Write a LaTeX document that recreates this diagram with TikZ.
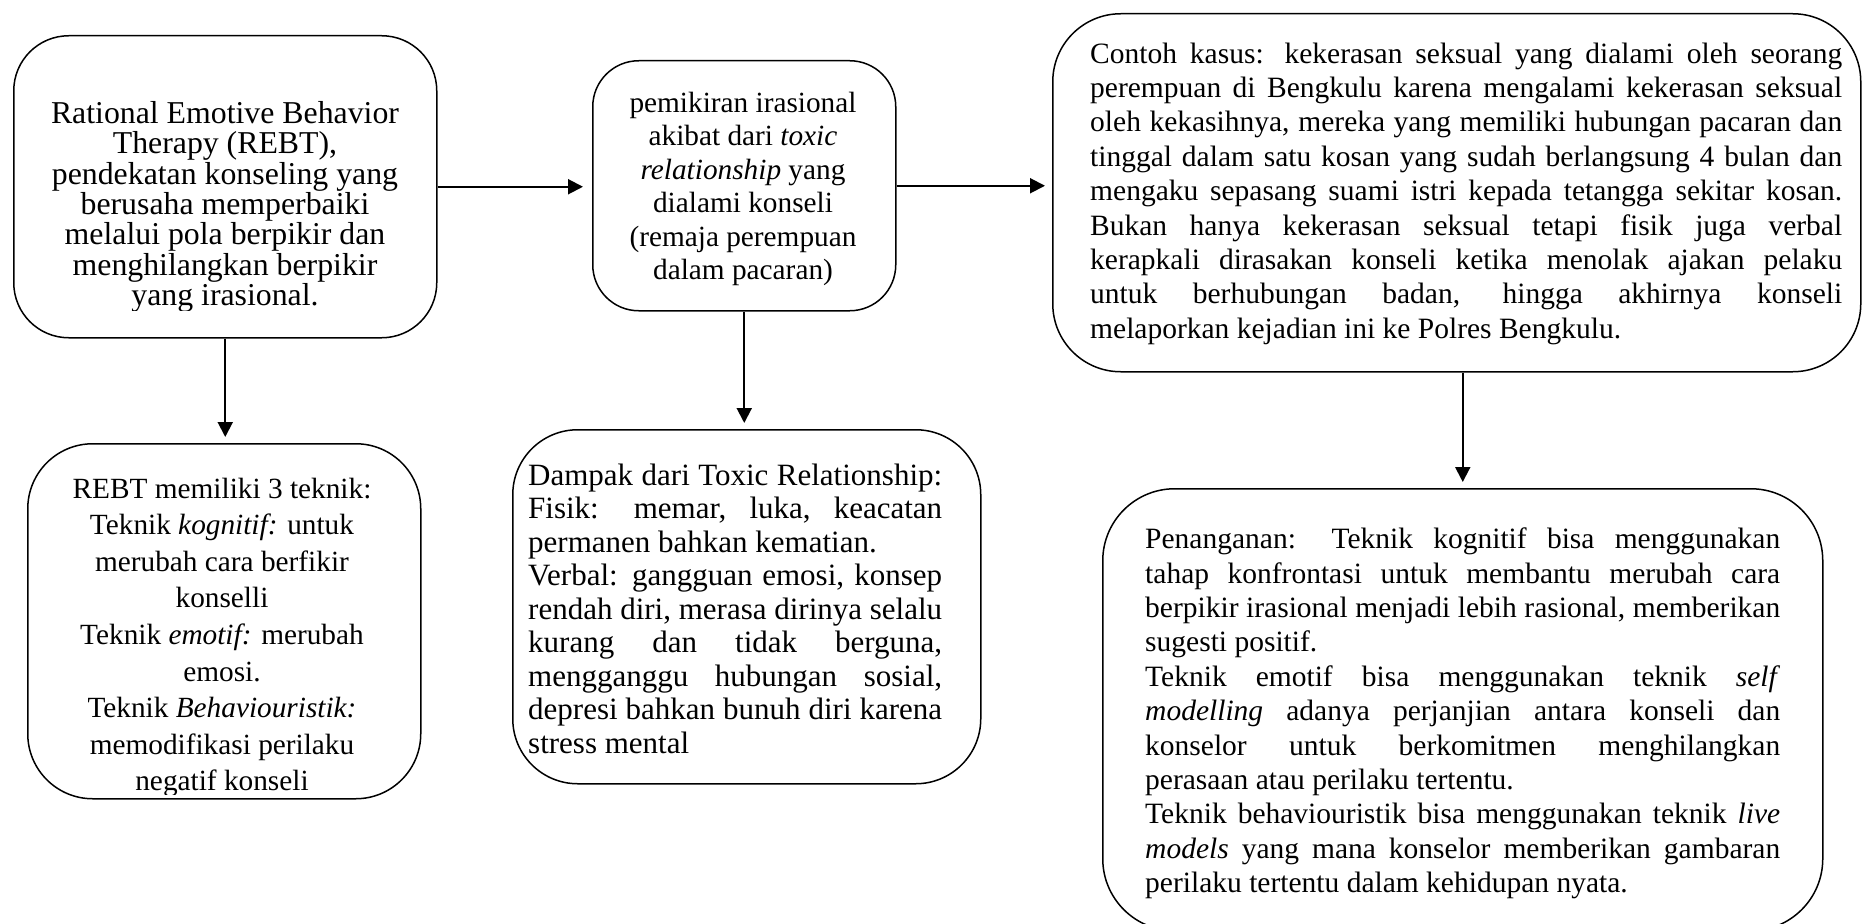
\documentclass[tikz,border=0pt]{standalone}
\usepackage{fontspec}
\setmainfont{Liberation Serif}
\usetikzlibrary{arrows.meta}
\newcommand\mystrut{\rule{0pt}{0.9em}}
\newcommand\jl[2]{\makebox[#1pt][s]{#2}}
\tikzset{
  rbox/.style={draw, line width=1.5pt, rounded corners=#1, anchor=north west, inner sep=0pt},
  arr/.style={line width=2pt, -{Triangle[length=15pt,width=15pt]}},
  tbig/.style={font=\fontsize{31.8}{30.4}\selectfont, align=center, inner sep=0pt, anchor=north},
  tmid/.style={font=\fontsize{29.3}{33.5}\selectfont, align=center, inner sep=0pt, anchor=north},
  tfour/.style={font=\fontsize{29.3}{36.6}\selectfont, align=center, inner sep=0pt, anchor=north},
  tdam/.style={font=\fontsize{31}{33.5}\selectfont, align=left, inner sep=0pt, anchor=north west},
  tjus/.style={font=\fontsize{29.5}{34.4}\selectfont, align=left, inner sep=0pt, anchor=north west}
}
\begin{document}
\begin{tikzpicture}[x=1pt,y=-1pt]
\clip (0,0) rectangle (1870,923);
% boxes
\node[rbox=55pt, minimum width=423pt, minimum height=302pt] (b1) at (13,35) {};
\node[rbox=46pt, minimum width=303pt, minimum height=250pt] (b2) at (592,60) {};
\node[rbox=68pt, minimum width=808pt, minimum height=358pt] (b3) at (1052,13) {};
\node[rbox=65pt, minimum width=393pt, minimum height=355pt] (b4) at (27,443) {};
\node[rbox=65pt, minimum width=468pt, minimum height=354pt] (b5) at (512,429) {};
\node[rbox=72pt, minimum width=720pt, minimum height=442pt] (b6) at (1102,488) {};
% texts
\begin{scope}
\clip (0,0) rectangle (1870,310);
\node[tbig] (x1) at (225,94.4) {\mystrut Rational Emotive Behavior\\Therapy (REBT),\\pendekatan konseling yang\\berusaha memperbaiki\\melalui pola berpikir dan\\menghilangkan berpikir\\yang irasional.};
\end{scope}
\node[tmid] (x2) at (743,85.6) {\mystrut pemikiran irasional\\akibat dari \textit{toxic}\\\textit{relationship} yang\\dialami konseli\\(remaja perempuan\\dalam pacaran)};
\node[tjus] (x3) at (1090,36.4) {\mystrut\jl{752}{Contoh kasus: kekerasan seksual yang dialami oleh seorang}\\
\jl{752}{perempuan di Bengkulu karena mengalami kekerasan seksual}\\
\jl{752}{oleh kekasihnya, mereka yang memiliki hubungan pacaran dan}\\
\jl{752}{tinggal dalam satu kosan yang sudah berlangsung 4 bulan dan}\\
\jl{752}{mengaku sepasang suami istri kepada tetangga sekitar kosan.}\\
\jl{752}{Bukan hanya kekerasan seksual tetapi fisik juga verbal}\\
\jl{752}{kerapkali dirasakan konseli ketika menolak ajakan pelaku}\\
\jl{752}{untuk berhubungan badan, hingga akhirnya konseli}\\
melaporkan kejadian ini ke Polres Bengkulu.};
\begin{scope}
\clip (0,0) rectangle (1870,794);
\node[tfour] (x4) at (222,471.6) {\mystrut REBT memiliki 3 teknik:\\Teknik \textit{kognitif:} untuk\\merubah cara berfikir\\konselli\\Teknik \textit{emotif:} merubah\\emosi.\\Teknik \textit{Behaviouristik:}\\memodifikasi perilaku\\negatif konseli};
\end{scope}
\node[tdam] (x5) at (528,457.1) {\mystrut\jl{414}{Dampak dari Toxic Relationship:}\\
\jl{414}{Fisik: memar, luka, keacatan}\\
permanen bahkan kematian.\\
\jl{414}{Verbal: gangguan emosi, konsep}\\
\jl{414}{rendah diri, merasa dirinya selalu}\\
\jl{414}{kurang dan tidak berguna,}\\
\jl{414}{mengganggu hubungan sosial,}\\
\jl{414}{depresi bahkan bunuh diri karena}\\
stress mental};
\node[tjus] (x6) at (1145,522) {\mystrut\jl{635}{Penanganan: Teknik kognitif bisa menggunakan}\\
\jl{635}{tahap konfrontasi untuk membantu merubah cara}\\
\jl{635}{berpikir irasional menjadi lebih rasional, memberikan}\\
sugesti positif.\\
\jl{635}{Teknik emotif bisa menggunakan teknik \textit{self}}\\
\jl{635}{\textit{modelling} adanya perjanjian antara konseli dan}\\
\jl{635}{konselor untuk berkomitmen menghilangkan}\\
perasaan atau perilaku tertentu.\\
\jl{635}{Teknik behaviouristik bisa menggunakan teknik \textit{live}}\\
\jl{635}{\textit{models} yang mana konselor memberikan gambaran}\\
perilaku tertentu dalam kehidupan nyata.};
% arrows
\draw[arr, shorten >=9pt] (b1.east) -- (b1.east -| b2.west);
\draw[arr, shorten >=7pt] (b2.east) -- (b2.east -| b3.west);
\draw[arr, shorten >=6pt] (b1.south) -- (b1.south |- b4.north);
\draw[arr, shorten >=6pt] (b2.south) -- (b2.south |- b5.north);
\coordinate (c5) at (b6.north |- b3.south);
\draw[arr, shorten >=6pt] (c5) -- (b6.north);
\end{tikzpicture}
\end{document}
